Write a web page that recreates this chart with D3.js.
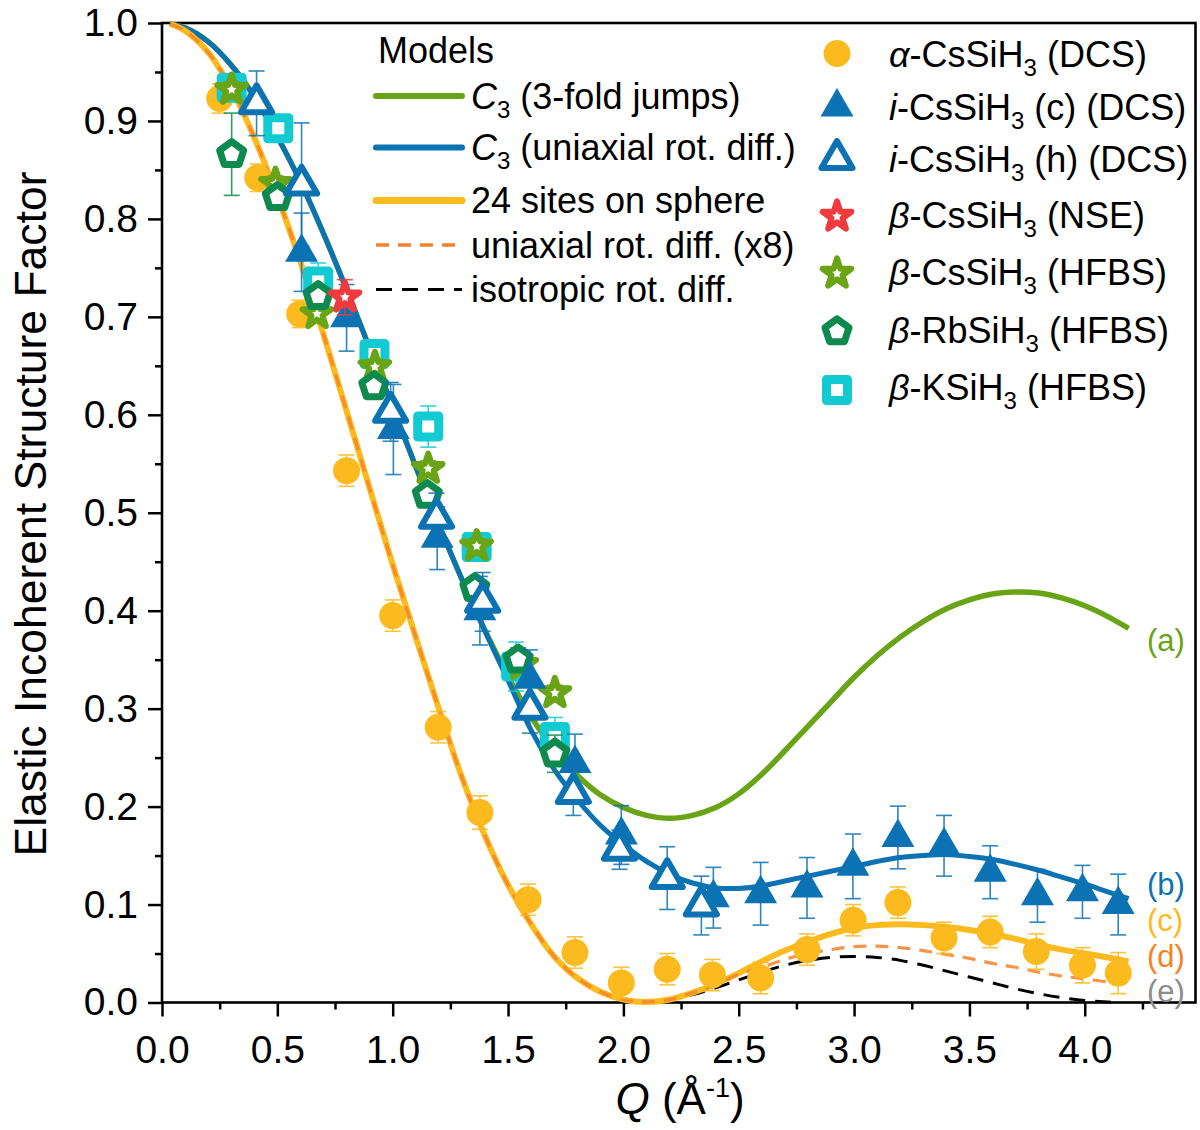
<!DOCTYPE html>
<html>
<head>
<meta charset="utf-8">
<script src="https://cdn.jsdelivr.net/npm/d3@7"></script>
<style>
  body { margin: 0; background: #fff; }
  svg { display: block; }
  text { font-family: "Liberation Sans", Arial, Helvetica, sans-serif; }
</style>
</head>
<body>
<svg id="chart" width="1200" height="1130"></svg>
<script>
// ---------- Model curves (EISF vs Q, Å^-1) ----------
const qModel = [0.035, 0.1, 0.2, 0.3, 0.4, 0.5, 0.6, 0.7, 0.8, 0.9, 1.0,
  1.1, 1.2, 1.3, 1.4, 1.5, 1.6, 1.7, 1.8, 1.9, 2.0,
  2.1, 2.2, 2.3, 2.4, 2.5, 2.6, 2.7, 2.8, 2.9, 3.0,
  3.1, 3.2, 3.3, 3.4, 3.5, 3.6, 3.7, 3.8, 3.9, 4.0,
  4.1, 4.19];
const qModelShort = [0.035, 0.1, 0.2, 0.3, 0.4, 0.5, 0.6, 0.7, 0.8, 0.9, 1.0,
  1.1, 1.2, 1.3, 1.4, 1.5, 1.6, 1.7, 1.8, 1.9, 2.0,
  2.1, 2.2, 2.3, 2.4, 2.5, 2.6, 2.7, 2.8, 2.9, 3.0,
  3.1, 3.2, 3.3, 3.4, 3.5, 3.6, 3.7, 3.8, 3.9, 4.0,
  4.1, 4.15];

// (a) C3, 3-fold jumps
const eisfJumps = [0.999, 0.995, 0.981, 0.957, 0.925, 0.884, 0.838, 0.785, 0.728, 0.668, 0.608,
  0.547, 0.488, 0.432, 0.380, 0.333, 0.292, 0.258, 0.232, 0.212, 0.199,
  0.191, 0.188, 0.191, 0.199, 0.213, 0.233, 0.257, 0.282, 0.307, 0.332,
  0.354, 0.373, 0.389, 0.402, 0.411, 0.417, 0.419, 0.418, 0.413, 0.405,
  0.394, 0.382];
// (b) C3, uniaxial rotational diffusion
const eisfUniaxialC3 = [0.999, 0.995, 0.981, 0.957, 0.925, 0.884, 0.838, 0.785, 0.728, 0.668, 0.608,
  0.547, 0.488, 0.432, 0.379, 0.329, 0.278, 0.238, 0.207, 0.181, 0.161,
  0.144, 0.131, 0.122, 0.117, 0.1165, 0.119, 0.124, 0.129, 0.134, 0.139,
  0.144, 0.148, 0.150, 0.151, 0.149, 0.146, 0.141, 0.135, 0.128, 0.121,
  0.113, 0.106];
// (c) 24 sites on a sphere
const eisfSphere24 = [0.999, 0.992, 0.970, 0.933, 0.883, 0.823, 0.756, 0.682, 0.604, 0.525, 0.447,
  0.373, 0.300, 0.230, 0.170, 0.120, 0.080, 0.047, 0.025, 0.011, 0.003,
  0.0005, 0.003, 0.010, 0.019, 0.030, 0.042, 0.053, 0.062, 0.070, 0.076,
  0.079, 0.080, 0.079, 0.077, 0.074, 0.070, 0.065, 0.059, 0.054, 0.050,
  0.046, 0.042];
// (d) uniaxial rotational diffusion (x8)
const eisfUniaxialX8 = [0.999, 0.992, 0.970, 0.933, 0.883, 0.823, 0.756, 0.682, 0.604, 0.525, 0.447,
  0.373, 0.300, 0.230, 0.170, 0.120, 0.080, 0.047, 0.025, 0.011, 0.003,
  0.0005, 0.003, 0.010, 0.018, 0.029, 0.036, 0.044, 0.050, 0.054, 0.057,
  0.0575, 0.056, 0.053, 0.049, 0.045, 0.040, 0.036, 0.031, 0.027, 0.024,
  0.021, 0.020];
// (e) isotropic rotational diffusion
const eisfIsotropic = [0.999, 0.992, 0.970, 0.933, 0.883, 0.823, 0.756, 0.682, 0.604, 0.525, 0.447,
  0.373, 0.300, 0.230, 0.170, 0.120, 0.080, 0.047, 0.025, 0.011, 0.003,
  0.0005, 0.003, 0.008, 0.015, 0.023, 0.031, 0.038, 0.043, 0.046, 0.047,
  0.046, 0.043, 0.038, 0.032, 0.026, 0.020, 0.014, 0.009, 0.005, 0.002,
  0.0005, 0.0];

// ---------- Measured EISF ----------
// α-CsSiH3 (DCS)
const qAlpha = [0.25, 0.415, 0.597, 0.80, 1.0, 1.197, 1.378, 1.587, 1.79, 1.991, 2.19, 2.386, 2.595, 2.796, 2.996, 3.19, 3.39, 3.59, 3.79, 3.99, 4.145];
const yAlpha = [0.923, 0.842, 0.703, 0.543, 0.395, 0.281, 0.194, 0.105, 0.051, 0.020, 0.034, 0.028, 0.025, 0.054, 0.084, 0.102, 0.066, 0.072, 0.052, 0.038, 0.030];
const eAlpha = [0.015, 0.014, 0.014, 0.016, 0.016, 0.016, 0.017, 0.016, 0.016, 0.016, 0.016, 0.016, 0.016, 0.016, 0.016, 0.016, 0.016, 0.016, 0.018, 0.018, 0.021];
// i-CsSiH3 (c) (DCS)
const qIc = [0.605, 0.80, 1.003, 1.193, 1.378, 1.595, 1.79, 1.991, 2.39, 2.595, 2.796, 2.995, 3.19, 3.39, 3.59, 3.795, 3.99, 4.145];
const yIc = [0.766, 0.699, 0.585, 0.474, 0.400, 0.330, 0.244, 0.171, 0.107, 0.111, 0.117, 0.139, 0.1685, 0.160, 0.133, 0.109, 0.113, 0.100];
const eIc = [0.040, 0.034, 0.046, 0.032, 0.035, 0.030, 0.030, 0.030, 0.031, 0.032, 0.031, 0.033, 0.032, 0.031, 0.027, 0.027, 0.027, 0.031];
// i-CsSiH3 (h) (DCS)
const qIh = [0.41, 0.605, 0.991, 1.19, 1.39, 1.595, 1.783, 1.983, 2.19, 2.338];
const yIh = [0.918, 0.835, 0.603, 0.495, 0.409, 0.300, 0.214, 0.156, 0.127, 0.099];
const eIh = [0.033, 0.063, 0.030, 0.025, 0.030, 0.025, 0.023, 0.020, 0.032, 0.030];
// β-CsSiH3 (NSE)
const qNse = [0.793];
const yNse = [0.720];
const eNse = [0.018];
// β-CsSiH3 (HFBS)
const qCsHfbs = [0.302, 0.492, 0.672, 0.923, 1.154, 1.364, 1.56, 1.703];
const yCsHfbs = [0.932, 0.836, 0.703, 0.649, 0.545, 0.466, 0.345, 0.316];
const eCsHfbs = [0.008, 0.008, 0.008, 0.008, 0.008, 0.008, 0.008, 0.008];
// β-RbSiH3 (HFBS)
const qRbHfbs = [0.302, 0.500, 0.677, 0.918, 1.150, 1.356, 1.544, 1.703];
const yRbHfbs = [0.866, 0.822, 0.721, 0.629, 0.518, 0.423, 0.350, 0.254];
const eRbHfbs = [0.042, 0.010, 0.010, 0.010, 0.010, 0.010, 0.012, 0.019];
// β-KSiH3 (HFBS)
const qKHfbs = [0.302, 0.504, 0.677, 0.921, 1.154, 1.364, 1.535, 1.703];
const yKHfbs = [0.934, 0.8925, 0.736, 0.662, 0.588, 0.465, 0.343, 0.271];
const eKHfbs = [0.010, 0.010, 0.019, 0.014, 0.021, 0.010, 0.025, 0.020];

// ---------- Axis ticks ----------
const xMajor = [0, 0.5, 1.0, 1.5, 2.0, 2.5, 3.0, 3.5, 4.0];
const xMinor = [0.25, 0.75, 1.25, 1.75, 2.25, 2.75, 3.25, 3.75, 4.25];
const yMajor = [0, 0.1, 0.2, 0.3, 0.4, 0.5, 0.6, 0.7, 0.8, 0.9, 1.0];
const yMinor = [0.05, 0.15, 0.25, 0.35, 0.45, 0.55, 0.65, 0.75, 0.85, 0.95];

// ---------- Colours ----------
const cGreen = "#68A416", cBlue = "#0B72B4", cYellow = "#FBBA1E", cOrange = "#F5832A",
      cRed = "#EF3B3E", cDkGreen = "#0F8A4E", cCyan = "#12CAD2", cGrey = "#8C8C8C";

const svg = d3.select("#chart");
svg.append("rect").attr("width", 1200).attr("height", 1130).attr("fill", "#fff");

const P = { left: 162, right: 1195.5, top: 23, bottom: 1002.5 };
const x = d3.scaleLinear().domain([0, 4.48]).range([P.left, P.right]);
const y = d3.scaleLinear().domain([0, 1]).range([P.bottom, P.top]);

// ---------- Axes ----------
const gx = svg.append("g").attr("transform", `translate(0,${P.bottom})`);
gx.call(d3.axisBottom(x).tickValues(xMajor).tickSize(14).tickPadding(19).tickFormat(d3.format(".1f")));
const gxm = svg.append("g").attr("transform", `translate(0,${P.bottom})`);
gxm.call(d3.axisBottom(x).tickValues(xMinor).tickSize(7).tickFormat(""));
const gy = svg.append("g").attr("transform", `translate(${P.left},0)`);
gy.call(d3.axisLeft(y).tickValues(yMajor).tickSize(14).tickPadding(10).tickFormat(d3.format(".1f")));
const gym = svg.append("g").attr("transform", `translate(${P.left},0)`);
gym.call(d3.axisLeft(y).tickValues(yMinor).tickSize(7).tickFormat(""));
[gx, gxm, gy, gym].forEach(g => {
  g.select(".domain").remove();
  g.selectAll(".tick line").attr("stroke", "#000").attr("stroke-width", 2.5);
  g.selectAll(".tick text").attr("fill", "#000").style("font-size", "39px")
    .style("font-family", '"Liberation Sans", Arial, sans-serif');
});

// frame
svg.append("rect")
  .attr("x", P.left).attr("y", P.top)
  .attr("width", P.right - P.left).attr("height", P.bottom - P.top)
  .attr("fill", "none").attr("stroke", "#000").attr("stroke-width", 2.6);

// axis titles
const xt = svg.append("text").attr("x", 680).attr("y", 1114)
  .attr("text-anchor", "middle").style("font-size", "44px").attr("fill", "#000");
xt.append("tspan").style("font-style", "italic").text("Q");
xt.append("tspan").text(" (Å");
xt.append("tspan").attr("dy", -17).style("font-size", "27px").text("-1");
xt.append("tspan").attr("dy", 17).text(")");

svg.append("text").attr("transform", "translate(46,514) rotate(-90)")
  .attr("text-anchor", "middle").style("font-size", "44.5px").attr("fill", "#000")
  .text("Elastic Incoherent Structure Factor");

// ---------- Model curves ----------
const gCurves = svg.append("g");
const line = d3.line().x(d => x(d[0])).y(d => y(d[1])).curve(d3.curveCatmullRom.alpha(0.5));
const zipQ = (qs, vs) => qs.map((q, i) => [q, vs[i]]);

gCurves.append("path").datum(zipQ(qModel, eisfJumps)).attr("d", line)
  .attr("fill", "none").attr("stroke", cGreen).attr("stroke-width", 5.5);
gCurves.append("path").datum(zipQ(qModel, eisfUniaxialC3)).attr("d", line)
  .attr("fill", "none").attr("stroke", cBlue).attr("stroke-width", 5);
gCurves.append("path").datum(zipQ(qModelShort, eisfIsotropic)).attr("d", line)
  .attr("fill", "none").attr("stroke", "#000").attr("stroke-width", 3)
  .attr("stroke-dasharray", "16,10");
gCurves.append("path").datum(zipQ(qModel, eisfSphere24)).attr("d", line)
  .attr("fill", "none").attr("stroke", cYellow).attr("stroke-width", 6);
gCurves.append("path").datum(zipQ(qModelShort, eisfUniaxialX8)).attr("d", line)
  .attr("fill", "none").attr("stroke", cOrange).attr("stroke-width", 3.2)
  .attr("stroke-dasharray", "13,9").attr("opacity", 0.85);

// ---------- Markers ----------
const symPentagon = {
  draw(ctx, size) {
    const r = Math.sqrt(size);
    for (let i = 0; i < 5; i++) {
      const a = -Math.PI / 2 + i * 2 * Math.PI / 5;
      const px = r * Math.cos(a), py = r * Math.sin(a);
      if (i === 0) ctx.moveTo(px, py); else ctx.lineTo(px, py);
    }
    ctx.closePath();
  }
};

const styles = {
  circle:   { type: d3.symbolCircle,   size: 572, fill: cYellow, stroke: "none", sw: 0, eb: cYellow },
  triFill:  { type: d3.symbolTriangle, size: 470, fill: cBlue, stroke: "none", sw: 0, eb: cBlue },
  triOpen:  { type: d3.symbolTriangle, size: 420, fill: "#fff", stroke: cBlue, sw: 6, eb: cBlue },
  starRed:  { type: d3.symbolStar,     size: 255, fill: "#fff", stroke: cRed, sw: 6, eb: cRed },
  starGrn:  { type: d3.symbolStar,     size: 255, fill: "#fff", stroke: cGreen, sw: 6, eb: cGreen },
  pentagon: { type: symPentagon,       size: 160, fill: "#fff", stroke: cDkGreen, sw: 7, eb: cDkGreen },
  square:   { type: d3.symbolSquare,   size: 441, fill: "#fff", stroke: cCyan, sw: 9, eb: cCyan }
};

function drawSeries(qs, vs, es, st) {
  const g = svg.append("g");
  const pts = qs.map((q, i) => ({ q, v: vs[i], e: es[i] }));
  const eb = g.append("g").attr("stroke", st.eb).attr("stroke-width", 1.6).attr("opacity", 0.85);
  pts.forEach(p => {
    const cx = x(p.q), y1 = y(p.v + p.e), y2 = y(p.v - p.e);
    eb.append("line").attr("x1", cx).attr("x2", cx).attr("y1", y1).attr("y2", y2);
    eb.append("line").attr("x1", cx - 8).attr("x2", cx + 8).attr("y1", y1).attr("y2", y1);
    eb.append("line").attr("x1", cx - 8).attr("x2", cx + 8).attr("y1", y2).attr("y2", y2);
  });
  g.selectAll("path.m").data(pts).join("path").attr("class", "m")
    .attr("transform", p => `translate(${x(p.q)},${y(p.v)})`)
    .attr("d", d3.symbol().type(st.type).size(st.size))
    .attr("fill", st.fill).attr("stroke", st.stroke).attr("stroke-width", st.sw)
    .attr("stroke-linejoin", "round");
}

drawSeries(qAlpha, yAlpha, eAlpha, styles.circle);
drawSeries(qKHfbs, yKHfbs, eKHfbs, styles.square);
drawSeries(qCsHfbs, yCsHfbs, eCsHfbs, styles.starGrn);
drawSeries(qRbHfbs, yRbHfbs, eRbHfbs, styles.pentagon);
drawSeries(qIc, yIc, eIc, styles.triFill);
drawSeries(qIh, yIh, eIh, styles.triOpen);
drawSeries(qNse, yNse, eNse, styles.starRed);

// ---------- Curve labels ----------
const curveTags = ["(a)", "(b)", "(c)", "(d)", "(e)"];
const curveTagColors = [cGreen, cBlue, cYellow, "#F58220", cGrey];
const curveTagY = [651, 895, 931, 967, 1002];
curveTags.forEach((t, i) => {
  svg.append("text").attr("x", 1147).attr("y", curveTagY[i])
    .style("font-size", "31px").attr("fill", curveTagColors[i]).text(t);
});

// ---------- Legends ----------
function richText(parent, xx, yy, segs, size) {
  const t = parent.append("text").attr("x", xx).attr("y", yy)
    .style("font-size", size + "px").attr("fill", "#000");
  let shifted = 0;
  segs.forEach(s => {
    const sp = t.append("tspan").text(s.t);
    if (s.it) sp.style("font-style", "italic");
    if (s.sub) { sp.attr("dy", 9 - shifted).style("font-size", "24px"); shifted = 9; }
    else if (shifted) { sp.attr("dy", -shifted); shifted = 0; }
  });
  return t;
}

const gLeg = svg.append("g");
gLeg.append("text").attr("x", 378).attr("y", 63).style("font-size", "36px").attr("fill", "#000").text("Models");

const modelLabels = [
  [{ t: "C", it: 1 }, { t: "3", sub: 1 }, { t: " (3-fold jumps)" }],
  [{ t: "C", it: 1 }, { t: "3", sub: 1 }, { t: " (uniaxial rot. diff.)" }],
  [{ t: "24 sites on sphere" }],
  [{ t: "uniaxial rot. diff. (x8)" }],
  [{ t: "isotropic rot. diff." }]
];
const modelColors = [cGreen, cBlue, cYellow, cOrange, "#000"];
const modelDash = [null, null, null, "13,9", "16,10"];
const modelWidth = [6, 6, 7, 3.5, 3.2];
const modelRowY = [96, 147.5, 200.5, 245, 289.5];
modelLabels.forEach((segs, i) => {
  const ln = gLeg.append("line").attr("x1", 376).attr("x2", 462)
    .attr("y1", modelRowY[i]).attr("y2", modelRowY[i])
    .attr("stroke", modelColors[i]).attr("stroke-width", modelWidth[i]).attr("stroke-linecap", modelDash[i] ? "butt" : "round");
  if (modelDash[i]) ln.attr("stroke-dasharray", modelDash[i]);
  richText(gLeg, 471, modelRowY[i] + 12.5, segs, 36);
});

const dataLabels = [
  [{ t: "α", it: 1 }, { t: "-CsSiH" }, { t: "3", sub: 1 }, { t: " (DCS)" }],
  [{ t: "i", it: 1 }, { t: "-CsSiH" }, { t: "3", sub: 1 }, { t: " (c) (DCS)" }],
  [{ t: "i", it: 1 }, { t: "-CsSiH" }, { t: "3", sub: 1 }, { t: " (h) (DCS)" }],
  [{ t: "β", it: 1 }, { t: "-CsSiH" }, { t: "3", sub: 1 }, { t: " (NSE)" }],
  [{ t: "β", it: 1 }, { t: "-CsSiH" }, { t: "3", sub: 1 }, { t: " (HFBS)" }],
  [{ t: "β", it: 1 }, { t: "-RbSiH" }, { t: "3", sub: 1 }, { t: " (HFBS)" }],
  [{ t: "β", it: 1 }, { t: "-KSiH" }, { t: "3", sub: 1 }, { t: " (HFBS)" }]
];
const dataStyles = [styles.circle, styles.triFill, styles.triOpen, styles.starRed, styles.starGrn, styles.pentagon, styles.square];
const dataMarkY = [53.5, 107, 159, 216.5, 273.5, 331.5, 390];
const dataTextY = [67, 120, 172, 228, 285, 343, 400];
dataLabels.forEach((segs, i) => {
  const st = dataStyles[i];
  gLeg.append("path").attr("transform", `translate(837,${dataMarkY[i]})`)
    .attr("d", d3.symbol().type(st.type).size(st.size))
    .attr("fill", st.fill).attr("stroke", st.stroke).attr("stroke-width", st.sw)
    .attr("stroke-linejoin", "round");
  richText(gLeg, 889, dataTextY[i], segs, 36);
});
</script>
</body>
</html>
